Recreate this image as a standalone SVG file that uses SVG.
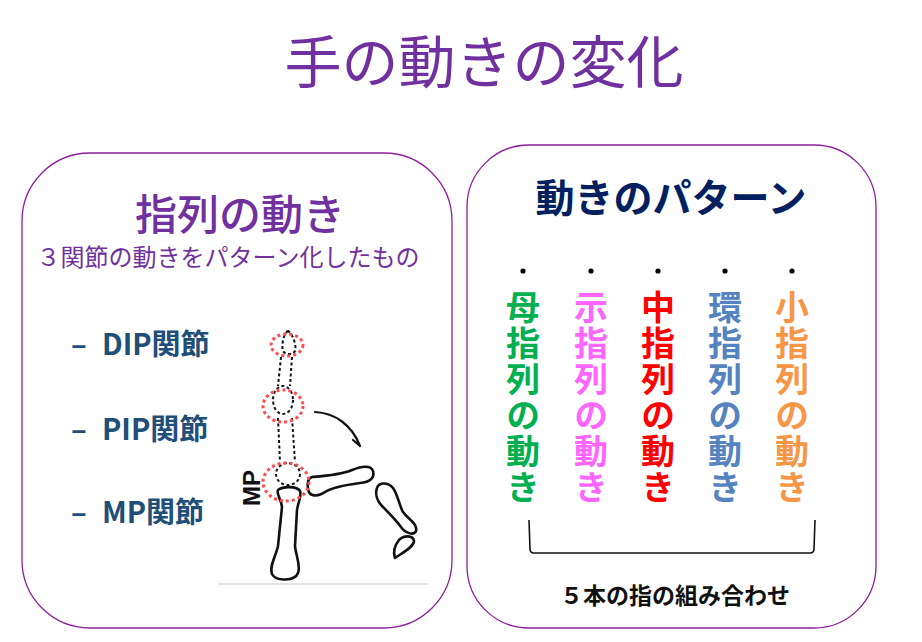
<svg xmlns="http://www.w3.org/2000/svg" width="922" height="642" viewBox="0 0 922 642">
<style>
.jp{font-family:"Noto Sans CJK JP","Liberation Sans",sans-serif}
.panel{fill:#fff;stroke:#8E1E9E;stroke-width:1.3}
.lbl{font-size:29px;font-weight:700;fill:#1F4E79}
.col{font-size:34px;font-weight:700;writing-mode:vertical-rl;text-orientation:upright;letter-spacing:2px}
.bone{fill:#fff;stroke:#111;stroke-width:2.6;stroke-linejoin:round}
.dot{fill:none;stroke:#111;stroke-width:2;stroke-dasharray:3 2.5}
.red{fill:none;stroke:#FF4B4B;stroke-width:3;stroke-dasharray:3 3}
</style>
<rect width="922" height="642" fill="#fff"/>
<g id="title">
<text class="jp" x="484" y="83" font-size="57" fill="#7030A0" text-anchor="middle">手の動きの変化</text>
</g>
<g id="left-panel">
<rect class="panel" x="22" y="153" width="430" height="475" rx="68" ry="68"/>
<text class="jp" x="240" y="230" font-size="42" font-weight="500" fill="#7030A0" text-anchor="middle">指列の動き</text>
<text class="jp" x="228" y="266" font-size="24" fill="#7030A0" text-anchor="middle">３関節の動きをパターン化したもの</text>
<text class="jp lbl" y="355"><tspan x="71">–</tspan><tspan x="102">DIP関節</tspan></text>
<text class="jp lbl" y="440"><tspan x="71">–</tspan><tspan x="102">PIP関節</tspan></text>
<text class="jp lbl" y="523"><tspan x="71">–</tspan><tspan x="102">MP関節</tspan></text>
</g>
<g id="finger">
<line x1="218" y1="584" x2="428" y2="584" stroke="#d9d9d9" stroke-width="1.3"/>
<path class="bone" d="M282,507 C281,498 276,494 278,490 C283,486 297,486 300,491 C302,496 298,502 297,510 L295,546 C296,556 301,566 298,573 C295,581 276,582 272,574 C269,566 276,556 278,546 Z"/>
<path class="bone" d="M312,477 C325,476 340,475 352,470 C362,466 371,465 373,471 C375,478 370,482 360,483 C345,485 333,487 325,492 C318,497 309,497 308,489 C307,482 308,478 312,477 Z"/>
<path class="bone" d="M377,488 C379,482 388,482 393,488 C398,495 399,505 403,512 C408,519 418,524 416,531 C414,536 405,533 401,527 C396,520 390,514 382,506 C377,501 375,494 377,488 Z"/>
<path class="bone" d="M399,540 C404,535 413,535 414,541 C414,547 402,553 395,558 C393,552 395,545 399,540 Z"/>
<path d="M315,412 C335,413 352,425 360,446 M353,440 L360,446" fill="none" stroke="#111" stroke-width="2.2" stroke-linecap="round"/>
<path class="dot" d="M288,331 C284,333 281,345 283,351 C285,355 293,355 295,351 C297,345 292,333 288,331 Z"/>
<path class="dot" d="M281,357 L278,386 M292,357 L290,386 M278,418 L280,462 M292,418 L295,462"/>
<ellipse class="dot" cx="283" cy="400" rx="10" ry="14"/>
<ellipse class="dot" cx="288" cy="474" rx="12" ry="11"/>
<ellipse class="red" cx="287" cy="345" rx="16" ry="11"/>
<ellipse class="red" cx="283" cy="406" rx="20" ry="16"/>
<ellipse class="red" cx="286" cy="482" rx="23" ry="19"/>
<text font-family="Liberation Sans,Arial,sans-serif" font-size="24" font-weight="700" fill="#111" text-anchor="middle" transform="translate(260,488) rotate(-90)">MP</text>
</g>
<g id="right-panel">
<rect class="panel" x="467" y="145" width="409" height="483" rx="62" ry="62"/>
<text class="jp" x="671" y="212" font-size="39" font-weight="700" fill="#002060" text-anchor="middle">動きのパターン</text>
<g fill="#000">
<circle cx="523" cy="271" r="2.6"/><circle cx="591" cy="271" r="2.6"/><circle cx="658" cy="271" r="2.6"/><circle cx="725" cy="271" r="2.6"/><circle cx="792" cy="271" r="2.6"/>
</g>
<text class="jp col" x="523" y="290" fill="#00B050">母指列の動き</text>
<text class="jp col" x="591" y="290" fill="#FF66FF">示指列の動き</text>
<text class="jp col" x="658" y="290" fill="#FF0000">中指列の動き</text>
<text class="jp col" x="725" y="290" fill="#5583C0">環指列の動き</text>
<text class="jp col" x="792" y="290" fill="#F79646">小指列の動き</text>
<path d="M529,520 L530,549 Q530,553 534,553 L810,553 Q814,553 814,549 L815,520" fill="none" stroke="#111" stroke-width="1.6"/>
<text class="jp" x="675" y="604" font-size="23" font-weight="700" fill="#111" text-anchor="middle">５本の指の組み合わせ</text>
</g>
</svg>
